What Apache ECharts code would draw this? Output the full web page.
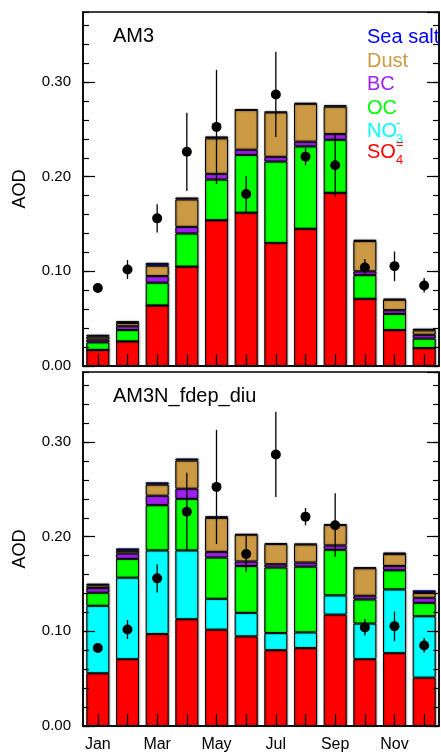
<!DOCTYPE html>
<html>
<head>
<meta charset="utf-8">
<script src="https://cdn.jsdelivr.net/npm/echarts@6/dist/echarts.min.js"></script>
<style>
html,body{margin:0;padding:0;background:#fff;}
#chart{width:441px;height:755px;}
</style>
</head>
<body>
<div id="chart"></div>
<script>
// ---------- data ----------
const months = ['Jan','Feb','Mar','Apr','May','Jun','Jul','Aug','Sep','Oct','Nov','Dec'];
const yTicks = [0, 0.1, 0.2, 0.3];
const panelTitles = ['AM3', 'AM3N_fdep_diu'];

// Panel 1: AM3 (component AOD, stacked)
const am3_SO4  = [0.017, 0.026, 0.064, 0.105, 0.154, 0.162, 0.130, 0.145, 0.183, 0.071, 0.038, 0.019];
const am3_NO3  = [0, 0, 0, 0, 0, 0, 0, 0, 0, 0, 0, 0];
const am3_OC   = [0.008, 0.012, 0.024, 0.035, 0.043, 0.061, 0.086, 0.087, 0.056, 0.025, 0.017, 0.010];
const am3_BC   = [0.003, 0.004, 0.007, 0.007, 0.006, 0.0055, 0.005, 0.005, 0.006, 0.004, 0.004, 0.004];
const am3_Dust = [0.003, 0.0034, 0.011, 0.029, 0.0375, 0.042, 0.047, 0.040, 0.029, 0.032, 0.011, 0.0047];
const am3_SS   = [0.002, 0.002, 0.003, 0.002, 0.002, 0.0005, 0.0007, 0.001, 0.0015, 0.0014, 0.0011, 0.0017];

// Panel 2: AM3N_fdep_diu
const fd_SO4  = [0.0557, 0.0706, 0.0972, 0.1128, 0.1018, 0.0947, 0.0801, 0.0823, 0.1177, 0.0706, 0.077, 0.0511];
const fd_NO3  = [0.0713, 0.0861, 0.0883, 0.0727, 0.0326, 0.0248, 0.0181, 0.0166, 0.0203, 0.0376, 0.0673, 0.0649];
const fd_OC   = [0.0138, 0.0199, 0.0478, 0.0545, 0.0436, 0.0495, 0.0692, 0.0695, 0.0482, 0.0255, 0.0202, 0.0141];
const fd_BC   = [0.0049, 0.0057, 0.010, 0.0107, 0.006, 0.0048, 0.0035, 0.0043, 0.0046, 0.0039, 0.0046, 0.0054];
const fd_Dust = [0.0029, 0.0028, 0.0117, 0.0298, 0.0359, 0.0283, 0.0213, 0.0191, 0.0216, 0.0291, 0.0125, 0.0049];
const fd_SS   = [0.0018, 0.0025, 0.0024, 0.0021, 0.0017, 0.0007, 0.0011, 0.0008, 0.0007, 0.001, 0.0017, 0.0029];

// Observations (same in both panels)
const obsMean = [0.0824, 0.102, 0.156, 0.2264, 0.2526, 0.1817, 0.2868, 0.2212, 0.212, 0.104, 0.1055, 0.085];
const obsHigh = [0.086, 0.112, 0.171, 0.2676, 0.3129, 0.2007, 0.3319, 0.2303, 0.2459, 0.113, 0.121, 0.093];
const obsLow  = [0.078, 0.092, 0.141, 0.185, 0.1922, 0.1626, 0.242, 0.212, 0.1788, 0.0956, 0.0896, 0.0776];

// ---------- styling ----------
const FONT = "'Liberation Sans', Arial, Helvetica, sans-serif";
const compNames = ['SO4', 'NO3', 'OC', 'BC', 'Dust', 'Sea salt'];
const compColors = ['#ff0000', '#00ffff', '#00ff00', '#a020f0', '#cc9944', '#0000ff'];
const YMAX = 0.374;

const panels = [
  [am3_SO4, am3_NO3, am3_OC, am3_BC, am3_Dust, am3_SS],
  [fd_SO4, fd_NO3, fd_OC, fd_BC, fd_Dust, fd_SS]
];
const grids = [
  {left: 83, top: 12, width: 356, height: 354},
  {left: 83, top: 372, width: 356, height: 354}
];

const xAxes = [], yAxes = [], series = [];
grids.forEach((g, gi) => {
  g.show = true; g.borderColor = '#000'; g.borderWidth = 1.5; g.backgroundColor = 'transparent';
  xAxes.push({
    type: 'category', gridIndex: gi, data: months, z: 10,
    axisLine: {show: true, lineStyle: {color: '#000', width: 1.5}},
    axisTick: {show: true, inside: true, length: 12, alignWithLabel: true, interval: 0, lineStyle: {color: '#000', width: 1.3}},
    axisLabel: {show: gi === 1, interval: 1, color: '#000', fontSize: 16, fontFamily: FONT, margin: 11},
    splitLine: {show: false}
  });
  const base = {type: 'value', gridIndex: gi, min: 0, max: YMAX, z: 10, splitLine: {show: false}};
  // left major
  yAxes.push(Object.assign({}, base, {
    position: 'left', interval: 0.1,
    name: 'AOD', nameLocation: 'middle', nameRotate: 90, nameGap: 54,
    nameTextStyle: {fontSize: 18, fontFamily: FONT, color: '#000'},
    axisLine: {show: true, lineStyle: {color: '#000', width: 1.5}},
    axisTick: {show: true, inside: true, length: 12, lineStyle: {color: '#000', width: 1.2}},
    axisLabel: {show: true, showMaxLabel: false, color: '#000', fontSize: 15, fontFamily: FONT, margin: 12,
      formatter: v => yTicks.indexOf(Math.round(v * 100) / 100) >= 0 ? v.toFixed(2) : ''}
  }));
  // left minor
  yAxes.push(Object.assign({}, base, {
    position: 'left', interval: 0.02,
    axisLine: {show: false}, axisLabel: {show: false},
    axisTick: {show: true, inside: true, length: 6, lineStyle: {color: '#000', width: 1.2}}
  }));
  // right major
  yAxes.push(Object.assign({}, base, {
    position: 'right', interval: 0.1,
    axisLine: {show: true, lineStyle: {color: '#000', width: 1.5}}, axisLabel: {show: false},
    axisTick: {show: true, inside: true, length: 12, lineStyle: {color: '#000', width: 1.2}}
  }));
  // right minor
  yAxes.push(Object.assign({}, base, {
    position: 'right', interval: 0.02,
    axisLine: {show: false}, axisLabel: {show: false},
    axisTick: {show: true, inside: true, length: 6, lineStyle: {color: '#000', width: 1.2}}
  }));

  const yi = gi * 4;
  panels[gi].forEach((arr, ci) => {
    series.push({
      type: 'bar', name: compNames[ci], xAxisIndex: gi, yAxisIndex: yi,
      stack: 'p' + gi, barWidth: 23, data: arr,
      itemStyle: {color: compColors[ci], borderColor: '#000', borderWidth: 1,
        shadowColor: 'rgba(0,0,0,0.45)', shadowBlur: 2, shadowOffsetX: 0.5},
      emphasis: {disabled: true}, animation: false
    });
  });
  series.push({
    type: 'custom', xAxisIndex: gi, yAxisIndex: yi, z: 12, animation: false,
    data: months.map((m, i) => [i, obsLow[i], obsHigh[i]]),
    renderItem: function (params, api) {
      const x = api.value(0);
      const p1 = api.coord([x, api.value(1)]);
      const p2 = api.coord([x, api.value(2)]);
      return {type: 'line', shape: {x1: p1[0], y1: p1[1], x2: p2[0], y2: p2[1]},
        style: {stroke: '#000', lineWidth: 1.3}};
    }
  });
  series.push({
    type: 'scatter', xAxisIndex: gi, yAxisIndex: yi, z: 13, animation: false,
    symbol: 'circle', symbolSize: 10, itemStyle: {color: '#000', opacity: 1},
    emphasis: {disabled: true},
    data: obsMean
  });
});

// legend + panel titles as text
const graphic = [];
panelTitles.forEach((t, i) => {
  graphic.push({type: 'text', left: 113, top: (i === 0 ? 26 : 386),
    style: {text: t, font: '20px ' + FONT, fill: '#000'}, z: 20});
});
const L = 367;
const legendLines = [
  {t: 'Sea salt', c: '#0000ff', y: 27},
  {t: 'Dust', c: '#cc9944', y: 51},
  {t: 'BC', c: '#a020f0', y: 74},
  {t: 'OC', c: '#00ff00', y: 98},
  {t: 'NO', c: '#00ffff', y: 121, sub: '3', sup: '-'},
  {t: 'SO', c: '#ff0000', y: 142, sub: '4', sup: '='}
];
legendLines.forEach(l => {
  graphic.push({type: 'text', left: L, top: l.y, z: 20,
    style: {text: l.t, font: '20px ' + FONT, fill: l.c}});
  if (l.sub) {
    graphic.push({type: 'text', left: L + 29, top: l.y + 12, z: 20,
      style: {text: l.sub, font: '13px ' + FONT, fill: l.c}});
    graphic.push({type: 'text', left: L + 29, top: l.y - 4, z: 20,
      style: {text: l.sup, font: '13px ' + FONT, fill: l.c}});
  }
});

const chart = echarts.init(document.getElementById('chart'), null, {renderer: 'canvas'});
chart.setOption({
  animation: false,
  backgroundColor: '#fff',
  grid: grids,
  xAxis: xAxes,
  yAxis: yAxes,
  series: series,
  graphic: graphic
});
</script>
</body>
</html>
